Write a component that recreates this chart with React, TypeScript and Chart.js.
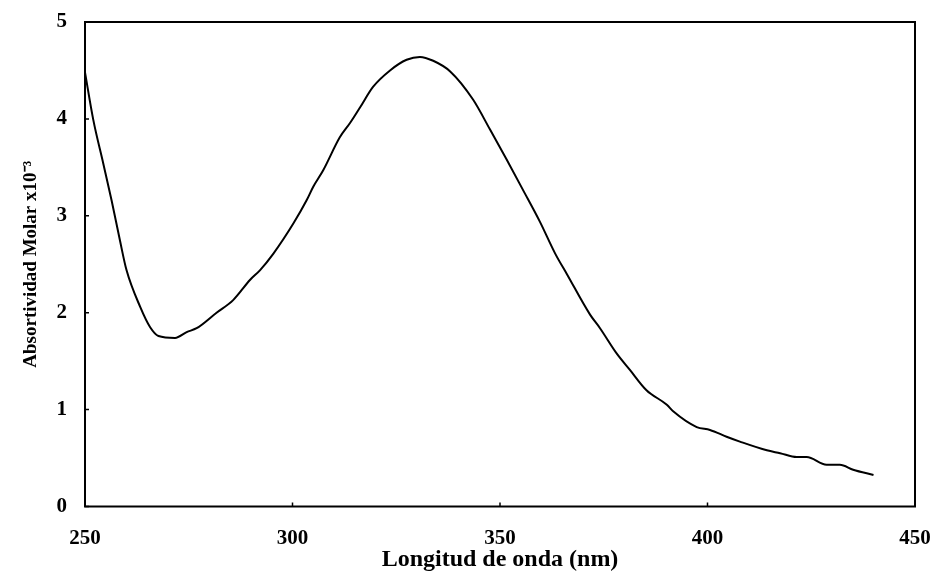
import React, { useEffect, useRef } from "react";
import { Chart, registerables } from "chart.js";

Chart.register(...registerables);

const wavelength = [
  250, 252, 254.4, 256.4, 258.4, 260, 263.3, 265.7, 267.7, 271.7, 274.5, 276.9,
  281.7, 285.7, 289.8, 292.2, 295.4, 300.2, 303.4, 305, 307.4, 311.4, 313.9,
  316.3, 319.4, 323.5, 327.5, 330.7, 333.9, 338, 343.5, 347.6, 351.6, 355.5,
  359.6, 363.3, 366.1, 371.7, 374.1, 378.1, 381.3, 385.3, 390.2, 391.8, 397.4,
  400.6, 404.6, 407.8, 414.3, 417.5, 421.5, 423.9, 428.7, 431.9, 435.1, 440,
];
const absorptivity = [
  4.48, 3.99, 3.54, 3.16, 2.75, 2.44, 2.06, 1.85, 1.76, 1.74, 1.8, 1.84, 2.0,
  2.13, 2.34, 2.44, 2.61, 2.92, 3.16, 3.3, 3.47, 3.81, 3.96, 4.12, 4.33, 4.5,
  4.61, 4.64, 4.6, 4.49, 4.2, 3.89, 3.58, 3.27, 2.94, 2.61, 2.4, 1.98, 1.84,
  1.58, 1.41, 1.2, 1.05, 0.98, 0.82, 0.79, 0.72, 0.67, 0.58, 0.55, 0.51, 0.51,
  0.43, 0.43, 0.38, 0.325,
];
const xTicks = [250, 300, 350, 400, 450];
const yTicks = [0, 1, 2, 3, 4, 5];
const xTitle = "Longitud de onda (nm)";
const yTitle = "Absortividad Molar x10\u207B\u00B3";

const FONT = "'Liberation Serif', 'Times New Roman', serif";

const framePlugin = {
  id: "frame",
  afterDraw(chart: any) {
    const { ctx, chartArea } = chart;
    const { left, right, top, bottom } = chartArea;
    ctx.save();
    ctx.strokeStyle = "#000";
    ctx.lineWidth = 2;
    ctx.strokeRect(left, top, right - left, bottom - top);
    ctx.lineWidth = 1.5;
    const xs = chart.scales.x;
    const ys = chart.scales.y;
    ctx.beginPath();
    xTicks.forEach((v) => {
      const px = xs.getPixelForValue(v);
      ctx.moveTo(px, bottom);
      ctx.lineTo(px, bottom - 4);
    });
    yTicks.forEach((v) => {
      const py = ys.getPixelForValue(v);
      ctx.moveTo(left, py);
      ctx.lineTo(left + 4, py);
    });
    ctx.stroke();
    ctx.restore();
  },
};

export default function App() {
  const ref = useRef<HTMLCanvasElement | null>(null);
  useEffect(() => {
    if (!ref.current) return;
    const data = wavelength.map((x, i) => ({ x, y: absorptivity[i] }));
    const chart = new Chart(ref.current, {
      type: "line",
      data: {
        datasets: [
          {
            data,
            borderColor: "#000",
            borderWidth: 2,
            pointRadius: 0,
            fill: false,
            tension: 0.3,
            cubicInterpolationMode: "monotone",
          },
        ],
      },
      options: {
        responsive: false,
        animation: false,
        layout: { padding: { top: 22, right: 20, left: 0, bottom: 0 } },
        plugins: { legend: { display: false }, tooltip: { enabled: false } },
        scales: {
          x: {
            type: "linear",
            min: 250,
            max: 450,
            afterBuildTicks: (s: any) => {
              s.ticks = xTicks.map((v) => ({ value: v }));
            },
            afterFit: (s: any) => {
              s.height = 71.5;
              s.paddingLeft = 0;
              s.paddingRight = 0;
            },
            grid: { display: false, drawTicks: false },
            border: { display: false },
            ticks: {
              color: "#000",
              padding: 19,
              maxRotation: 0,
              font: { family: FONT, size: 21, weight: "bold" },
            },
            title: {
              display: true,
              text: xTitle,
              color: "#000",
              padding: { top: 0, bottom: 4 },
              font: { family: FONT, size: 24, weight: "bold" },
            },
          },
          y: {
            min: 0,
            max: 5,
            afterBuildTicks: (s: any) => {
              s.ticks = yTicks.map((v) => ({ value: v }));
            },
            afterFit: (s: any) => {
              s.width = 85;
              s.paddingTop = 0;
              s.paddingBottom = 0;
            },
            grid: { display: false, drawTicks: false },
            border: { display: false },
            ticks: {
              color: "#000",
              padding: 18,
              font: { family: FONT, size: 21, weight: "bold" },
            },
            title: {
              display: true,
              text: yTitle,
              color: "#000",
              padding: { top: 20, bottom: 0 },
              font: { family: FONT, size: 19, weight: "bold" },
            },
          },
        },
      },
      plugins: [framePlugin],
    } as any);
    return () => chart.destroy();
  }, []);
  return (
    <div style={{ position: "fixed", left: 0, top: 0, width: 935, height: 578, background: "#fff" }}>
      <canvas ref={ref} width={935} height={578} style={{ display: "block" }} />
    </div>
  );
}
